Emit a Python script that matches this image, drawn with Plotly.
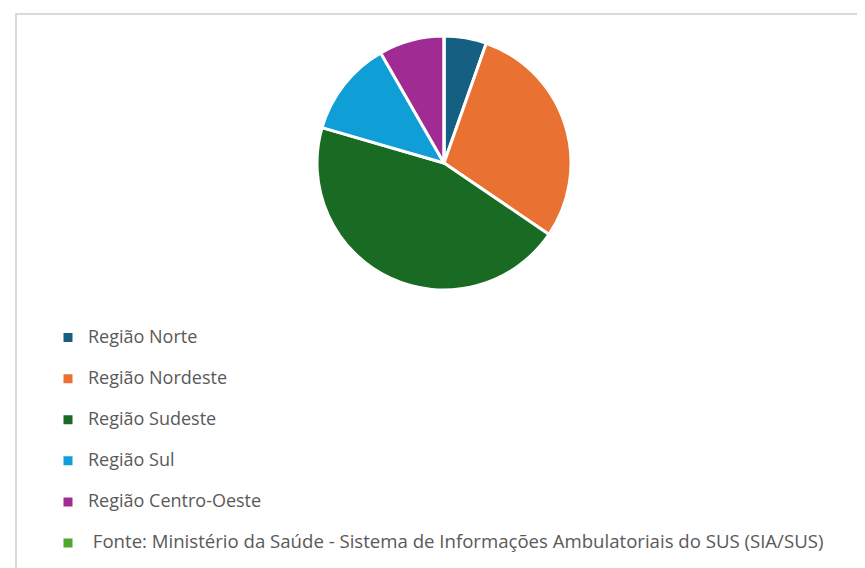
import plotly.graph_objects as go

labels = ["Região Norte", "Região Nordeste", "Região Sudeste", "Região Sul",
          "Região Centro-Oeste",
          " Fonte: Ministério da Saúde - Sistema de Informações Ambulatoriais do SUS (SIA/SUS)"]
values = [5.4, 29.1, 45.0, 12.2, 8.3, 0]
colors = ["#156082", "#E97132", "#196B24", "#0F9ED5", "#A02B93", "#4EA72E"]
label_sizes = [18, 18, 18, 18, 18, 18.6]

W, H = 865, 568
cx, cy, r = 436, 155, 127

legend_names = ["<span style='font-size:%spx;baseline-shift:6px'>%s</span>" % (s, l)
                for s, l in zip(label_sizes, labels)]

fig = go.Figure(go.Pie(
    labels=legend_names,
    values=values,
    sort=False,
    direction="clockwise",
    rotation=0,
    textinfo="none",
    marker=dict(colors=colors, line=dict(color="white", width=3)),
    domain=dict(x=[(cx - r) / W, (cx + r) / W], y=[1 - (cy + r) / H, 1 - (cy - r) / H]),
    hovertemplate="%{label}: %{value}<extra></extra>",
))

fig.add_shape(type="rect", xref="paper", yref="paper",
              x0=8 / W, x1=1.2, y0=-0.2, y1=1 - 6 / H,
              line=dict(color="#d9d9d9", width=2), fillcolor="rgba(0,0,0,0)", layer="below")

fig.update_layout(
    width=W, height=H,
    margin=dict(l=0, r=0, t=0, b=0),
    paper_bgcolor="white",
    showlegend=True,
    legend=dict(
        x=40 / W, xanchor="left",
        y=1 - 304 / H, yanchor="top",
        font=dict(family="Open Sans, sans-serif", size=29.3, color="#595959"),
        bgcolor="rgba(0,0,0,0)",
        tracegroupgap=0,
    ),
)

fig.write_html("out.html")
